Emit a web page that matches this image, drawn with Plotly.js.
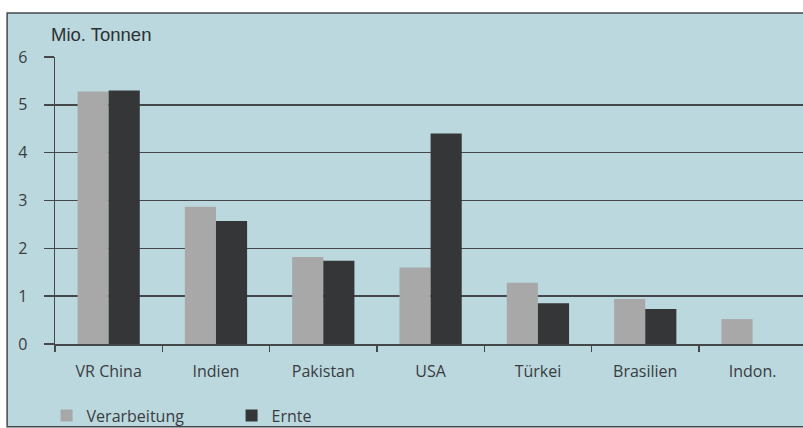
<!DOCTYPE html>
<html>
<head>
<meta charset="utf-8">
<script src="https://cdn.plot.ly/plotly-3.0.1.min.js"></script>
<style>html,body{margin:0;padding:0;background:#fff;}#chart{width:803px;height:428px;}</style>
</head>
<body>
<div id="chart"></div>
<script>
const categories = ["VR China", "Indien", "Pakistan", "USA", "Türkei", "Brasilien", "Indon."];
const verarbeitung = [5.28, 2.87, 1.82, 1.60, 1.28, 0.94, 0.52];
const ernte = [5.30, 2.57, 1.74, 4.40, 0.85, 0.73, null];
const yTicks = [0, 1, 2, 3, 4, 5, 6];

const bg = "#bad8de";
const lineCol = "#45484a";
const textCol = "#3a3c3e";
const fontFam = "Open Sans, sans-serif";

const traces = [
  {type: "bar", name: "Verarbeitung", x: categories, y: verarbeitung,
   marker: {color: "#a8a8a8", line: {width: 0}}},
  {type: "bar", name: "Ernte", x: categories, y: ernte,
   marker: {color: "#343638", line: {width: 0}}}
];

const layout = {
  width: 803, height: 428,
  margin: {l: 55, r: 0, t: 57, b: 84},
  paper_bgcolor: "#ffffff",
  plot_bgcolor: "rgba(0,0,0,0)",
  barmode: "group",
  bargap: 0.42,
  bargroupgap: 0,
  showlegend: true,
  legend: {orientation: "h", xref: "container", yref: "container",
           x: 0.058, xanchor: "left", y: 0.029, yanchor: "middle",
           font: {family: fontFam, size: 16, color: textCol},
           entrywidth: 140, entrywidthmode: "pixels", itemwidth: 30, bgcolor: "rgba(0,0,0,0)"},
  xaxis: {type: "category", range: [-0.5, 6.47], showline: true, linecolor: lineCol, linewidth: 1.5,
          ticks: "outside", tickson: "boundaries", ticklen: 6, tickcolor: lineCol, tickwidth: 1.5,
          ticklabelstandoff: 12,
          tickfont: {family: fontFam, size: 16, color: textCol},
          showgrid: false, zeroline: false, fixedrange: true, automargin: false},
  yaxis: {range: [0, 6], tickvals: yTicks, ticktext: yTicks.map(String),
          showgrid: true, gridcolor: lineCol, gridwidth: 1.5,
          showline: true, linecolor: lineCol, linewidth: 1.5,
          ticks: "outside", ticklen: 10, tickcolor: lineCol, tickwidth: 1.5,
          ticklabelstandoff: 13,
          tickfont: {family: fontFam, size: 16, color: textCol},
          zeroline: false, fixedrange: true, automargin: false},
  shapes: [
    {type: "rect", xref: "paper", yref: "paper", x0: -0.064, x1: 1.05, y0: -0.288, y1: 1.153,
     fillcolor: bg, line: {color: lineCol, width: 1.5}, layer: "below"}
  ],
  annotations: [
    {xref: "paper", yref: "paper", x: -0.008, y: 1.078, xanchor: "left", yanchor: "middle",
     text: "Mio. Tonnen", showarrow: false,
     font: {family: "Liberation Sans, Arial, sans-serif", size: 18.5, color: "#2e3032"}}
  ]
};

Plotly.newPlot("chart", traces, layout, {displayModeBar: false, staticPlot: true});
</script>
</body>
</html>
